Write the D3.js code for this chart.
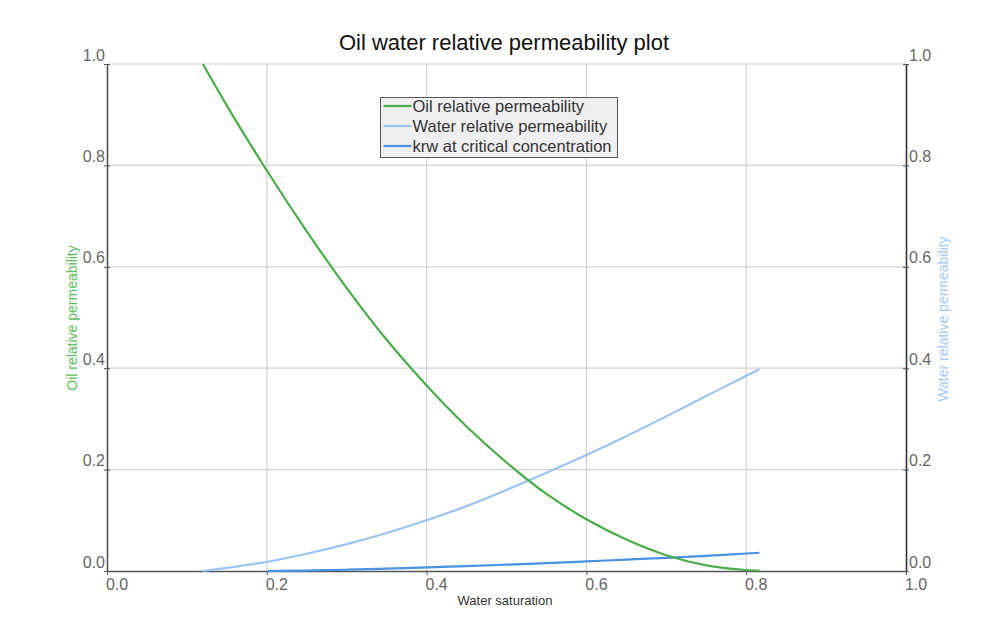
<!DOCTYPE html>
<html>
<head>
<meta charset="utf-8">
<script src="https://cdn.jsdelivr.net/npm/d3@7"></script>
<style>
  html, body { margin: 0; padding: 0; background: #fff; }
  svg { display: block; font-family: "Liberation Sans", Arial, sans-serif; }
</style>
</head>
<body>
<svg id="chart" width="988" height="631"></svg>
<script>
// Oil relative permeability vs water saturation
const swOil = [0.12, 0.15, 0.2, 0.25, 0.3, 0.35, 0.4, 0.45, 0.5, 0.55, 0.6, 0.65, 0.7, 0.75, 0.8, 0.8165];
const kro   = [1.0, 0.918, 0.790, 0.670, 0.558, 0.456, 0.366, 0.285, 0.214, 0.152, 0.102, 0.062, 0.031, 0.011, 0.002, 0.001];

// Water relative permeability
const swWater = [0.12, 0.15, 0.2, 0.25, 0.3, 0.35, 0.4, 0.45, 0.5, 0.55, 0.6, 0.65, 0.7, 0.75, 0.8, 0.8165];
const krw     = [0.0, 0.006, 0.018, 0.034, 0.053, 0.075, 0.100, 0.128, 0.160, 0.194, 0.229, 0.266, 0.305, 0.345, 0.385, 0.398];

// krw at critical concentration
const swCrit  = [0.2, 0.25, 0.3, 0.35, 0.4, 0.45, 0.5, 0.55, 0.6, 0.65, 0.7, 0.75, 0.8165];
const krwCrit = [0.0, 0.001, 0.0025, 0.0045, 0.007, 0.0095, 0.0125, 0.0155, 0.019, 0.0225, 0.026, 0.030, 0.036];

const xTicks = [0.0, 0.2, 0.4, 0.6, 0.8, 1.0];
const yTicks = [0.0, 0.2, 0.4, 0.6, 0.8, 1.0];

const seriesNames = ["Oil relative permeability", "Water relative permeability", "krw at critical concentration"];
const seriesColors = ["#4aad4a", "#9cc4f2", "#4a92e6"];

const svg = d3.select("#chart");
const plotLeft = 107, plotRight = 906, plotTop = 64, plotBottom = 571;

const x = d3.scaleLinear().domain([0, 1]).range([plotLeft, plotRight]);
const yL = d3.scaleLinear().domain([0, 1]).range([plotBottom, plotTop]);
const yR = d3.scaleLinear().domain([0, 1]).range([plotBottom, plotTop]);

// title
svg.append("text")
  .attr("x", 504).attr("y", 50)
  .attr("text-anchor", "middle")
  .attr("font-size", 22)
  .attr("fill", "#111")
  .text("Oil water relative permeability plot");

// grid
const grid = svg.append("g").attr("stroke", "#d4d3dc").attr("stroke-width", 1.2);
grid.selectAll("line.h").data(yTicks.filter(d => d > 0)).join("line")
  .attr("class", "h")
  .attr("x1", plotLeft).attr("x2", plotRight)
  .attr("y1", d => yL(d)).attr("y2", d => yL(d));
grid.selectAll("line.v").data(xTicks.filter(d => d > 0 && d < 1)).join("line")
  .attr("class", "v")
  .attr("y1", plotTop).attr("y2", plotBottom)
  .attr("x1", d => x(d)).attr("x2", d => x(d));

// axes
const fmt = d3.format(".1f");
const axisColor = "#555";

const gB = svg.append("g").attr("transform", `translate(0,${plotBottom})`)
  .call(d3.axisBottom(x).tickValues(xTicks).tickFormat(fmt).tickSize(4).tickSizeOuter(0));
gB.selectAll("text").attr("text-anchor", "start").attr("dx", "-0.1em").attr("y", 5).attr("dy", "0.85em");

const gL = svg.append("g").attr("transform", `translate(${plotLeft},0)`)
  .call(d3.axisLeft(yL).tickValues(yTicks).tickFormat(fmt).tickSize(3).tickSizeOuter(0));
gL.selectAll("text").attr("x", -2).attr("dy", "-0.25em");
gL.selectAll(".tick line").attr("x2", 3).attr("x1", -3);

const gR = svg.append("g").attr("transform", `translate(${plotRight},0)`)
  .call(d3.axisRight(yR).tickValues(yTicks).tickFormat(fmt).tickSize(3).tickSizeOuter(0));
gR.selectAll("text").attr("x", 3).attr("dy", "-0.25em");
gR.selectAll(".tick line").attr("x2", 3).attr("x1", -3);

[gB, gL, gR].forEach(g => {
  g.attr("font-family", null).attr("font-size", null);
  g.select(".domain").attr("stroke", axisColor).attr("stroke-width", 1.6);
  g.selectAll(".tick line").attr("stroke", axisColor);
  g.selectAll("text").attr("fill", "#666").attr("font-size", 16);
});
gR.select(".domain").attr("stroke", "#333");

// axis titles
svg.append("text")
  .attr("x", 505).attr("y", 605)
  .attr("text-anchor", "middle")
  .attr("font-size", 13).attr("fill", "#333")
  .text("Water saturation");

svg.append("text")
  .attr("transform", "translate(77,318) rotate(-90)")
  .attr("text-anchor", "middle")
  .attr("font-size", 14).attr("fill", "#5cbf5c")
  .text("Oil relative permeability");

svg.append("text")
  .attr("transform", "translate(948,319) rotate(-90)")
  .attr("text-anchor", "middle")
  .attr("font-size", 14).attr("fill", "#a6c9f2")
  .text("Water relative permeability");

// curves
const lineL = d3.line().x(d => x(d[0])).y(d => yL(d[1])).curve(d3.curveMonotoneX);
const lineR = d3.line().x(d => x(d[0])).y(d => yR(d[1])).curve(d3.curveMonotoneX);

svg.append("path")
  .datum(d3.zip(swWater, krw))
  .attr("fill", "none").attr("stroke", seriesColors[1]).attr("stroke-width", 2.2)
  .attr("d", lineR);

svg.append("path")
  .datum(d3.zip(swCrit, krwCrit))
  .attr("fill", "none").attr("stroke", seriesColors[2]).attr("stroke-width", 2.2)
  .attr("d", lineR);

svg.append("path")
  .datum(d3.zip(swOil, kro))
  .attr("fill", "none").attr("stroke", seriesColors[0]).attr("stroke-width", 2.2)
  .attr("d", lineL);

// legend
const lg = svg.append("g").attr("transform", "translate(380.5,97.5)");
lg.append("rect").attr("width", 237).attr("height", 60)
  .attr("fill", "#efeff1").attr("stroke", "#555").attr("stroke-width", 1);
const item = lg.selectAll("g.item").data(seriesNames).join("g")
  .attr("class", "item")
  .attr("transform", (d, i) => `translate(0,${8.5 + i * 20})`);
item.append("line").attr("x1", 3).attr("x2", 31)
  .attr("stroke", (d, i) => seriesColors[i]).attr("stroke-width", 2.2);
item.append("text").attr("x", 32).attr("y", 0).attr("dy", "0.35em")
  .attr("font-size", 16.5).attr("fill", "#333")
  .text(d => d);
</script>
</body>
</html>
